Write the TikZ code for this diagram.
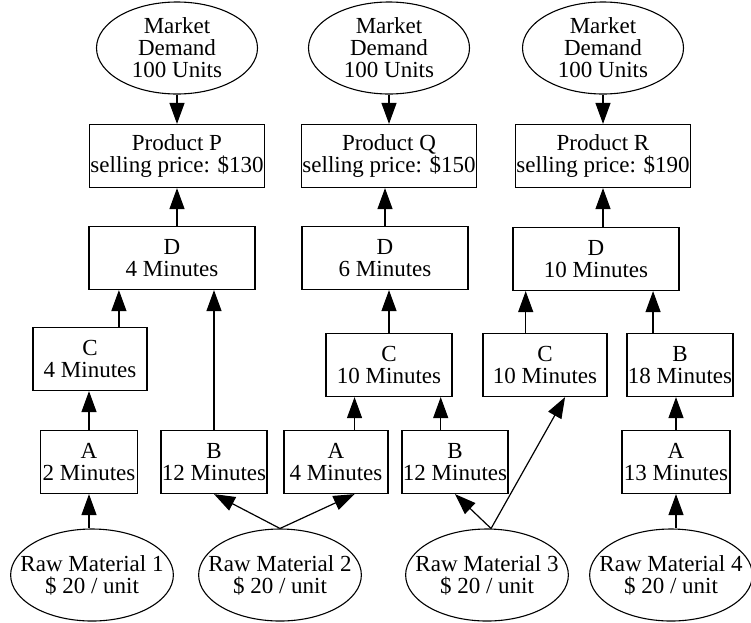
\documentclass[tikz,border=0pt]{standalone}
\usepackage{fontspec}
\setmainfont{Liberation Serif}
\usetikzlibrary{shapes,positioning,arrows.meta}

\begin{document}
\begin{tikzpicture}[x=1pt, y=-1pt, node distance=108pt,
	font=\fontsize{23}{22}\selectfont,
	demand/.style = {draw, ellipse, line width=1.1pt, minimum width=161pt, minimum height=92pt, inner xsep=-14pt, inner ysep=0pt, align=center},
	prod/.style = {draw, rectangle, line width=1.2pt, minimum width=173pt, minimum height=63pt, inner xsep=1pt, inner ysep=1pt, align=center},
	stepbox/.style = {draw, rectangle, line width=1.2pt, minimum height=63pt, inner xsep=1pt, inner ysep=1pt, align=center},
	arr/.style = {line width=1.2pt, -{Triangle[length=21pt, width=15pt]}}]
		\useasboundingbox (0,0) rectangle (751,622);
		% market demand and products
		\node[demand] (m1) at (177,48) {Market\\Demand\\100 Units};
		\node[demand] (m2) at (389,48) {Market\\Demand\\100 Units};
		\node[demand] (m3) at (603,48) {Market\\Demand\\100 Units};
		\node[prod] (p1) [below of=m1] {Product P\\selling price: \$130};
		\node[prod] (p2) [below of=m2] {Product Q\\selling price: \$150};
		\node[prod] (p3) [below of=m3] {Product R\\selling price: \$190};
		% machines
		\node[stepbox, minimum width=166pt] (d1) at (172,258) {D\\4 Minutes};
		\node[stepbox, minimum width=166pt] (d2) at (385,258) {D\\6 Minutes};
		\node[stepbox, minimum width=166pt] (d3) at (596,259) {D\\10 Minutes};
		\node[stepbox, minimum width=114pt] (c1) at (90,359) {C\\4 Minutes};
		\node[stepbox, minimum width=126pt] (c2) at (389,365) {C\\10 Minutes};
		\node[stepbox, minimum width=124pt] (c3) at (545,365) {C\\10 Minutes};
		\node[stepbox, minimum width=105pt] (b3) at (680,365) {B\\18 Minutes};
		\node[stepbox, minimum width=97pt] (a1) at (89,462) {A\\2 Minutes};
		\node[stepbox, minimum width=105pt] (b1) at (214,462) {B\\12 Minutes};
		\node[stepbox, minimum width=104pt] (a2) at (336,462) {A\\4 Minutes};
		\node[stepbox, minimum width=105pt] (b2) at (455,462) {B\\12 Minutes};
		\node[stepbox, minimum width=108pt] (a4) at (676,462) {A\\13 Minutes};
		% raw materials
		\node[demand] (r1) at (92,575) {Raw Material 1\\\$ 20 / unit};
		\node[demand] (r2) at (280,575) {Raw Material 2\\\$ 20 / unit};
		\node[demand] (r3) at (487,575) {Raw Material 3\\\$ 20 / unit};
		\node[demand, minimum width=159pt] (r4) at (671,575) {Raw Material 4\\\$ 20 / unit};
		\draw[arr] (m1) -- (p1);
		\draw[arr] (m2) -- (p2);
		\draw[arr] (m3) -- (p3);
		\draw[arr] (d1.north -| p1) -- (p1);
		\draw[arr] (d2) -- (d2 |- p2.south);
		\draw[arr] (d3.north -| p3) -- (p3);
		\draw[arr] (c1.48) -- (c1.48 |- d1.south);
		\draw[arr] (b1) -- (b1 |- d1.south);
		\draw[arr] (c2) -- (c2 |- d2.south);
		\draw[arr] (c3.121) -- (c3.121 |- d3.south);
		\draw[arr] (b3.130) -- (b3.130 |- d3.south);
		\draw[arr] (a1) -- (a1 |- c1.south);
		\draw[arr] (a2.60) -- (a2.60 |- c2.south);
		\draw[arr] (b2.114) -- (b2.114 |- c2.south);
		\draw[arr] (a4) -- (a4 |- b3.south);
		\draw[arr] (r1.north -| a1) -- (a1);
		\draw[arr] (r2.north) -- (b1.south);
		\draw[arr] (r2.north) -- (a2.-60);
		\draw[arr] (r3.85) -- (b2.south);
		\draw[arr] (r3.85) -- (c3.-58);
		\draw[arr] (r4.north -| a4) -- (a4);
	\end{tikzpicture}
\end{document}
